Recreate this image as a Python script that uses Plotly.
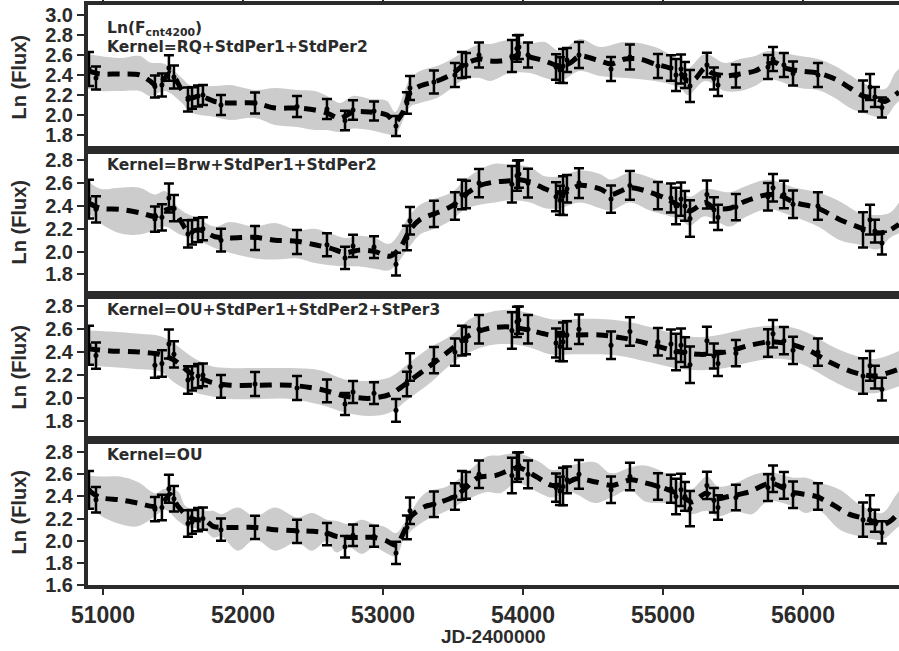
import plotly.graph_objects as go
from plotly.subplots import make_subplots

# ---------------- observations (same in every panel) ----------------
obs_jd = [50900, 50950, 51371, 51421, 51471, 51507, 51607, 51636, 51679, 51714,
          51843, 52086, 52386, 52600, 52729, 52786, 52936, 53093, 53171, 53193,
          53364, 53514, 53564, 53593, 53686, 53921, 53957, 53971, 54036, 54236,
          54264, 54286, 54314, 54400, 54629, 54764, 54964, 55057, 55093, 55129,
          55157, 55193, 55314, 55364, 55393, 55521, 55750, 55786, 55864, 55929,
          56107, 56429, 56479, 56514, 56564]
obs_flux = [2.46, 2.37, 2.285, 2.30, 2.47, 2.38, 2.155, 2.17, 2.19, 2.20,
            2.10, 2.12, 2.085, 2.06, 1.945, 2.05, 2.04, 1.89, 2.12, 2.27,
            2.33, 2.40, 2.50, 2.50, 2.60, 2.59, 2.665, 2.68, 2.60, 2.48,
            2.45, 2.49, 2.55, 2.60, 2.46, 2.58, 2.49, 2.47, 2.40, 2.46,
            2.40, 2.29, 2.50, 2.366, 2.30, 2.39, 2.48, 2.56, 2.50, 2.415,
            2.40, 2.19, 2.28, 2.18, 2.075]
obs_err = [0.17, 0.115, 0.11, 0.115, 0.127, 0.115, 0.12, 0.107, 0.105, 0.10,
           0.10, 0.105, 0.105, 0.10, 0.097, 0.097, 0.095, 0.10, 0.107, 0.12,
           0.115, 0.12, 0.13, 0.12, 0.124, 0.16, 0.133, 0.12, 0.125, 0.127,
           0.127, 0.17, 0.12, 0.13, 0.12, 0.125, 0.12, 0.127, 0.16, 0.146,
           0.13, 0.16, 0.123, 0.11, 0.11, 0.115, 0.12, 0.12, 0.12, 0.12,
           0.12, 0.155, 0.13, 0.10, 0.10]

# ---------------- panel 1: RQ+StdPer1+StdPer2 ----------------
p1_mean_jd = [50893, 50979, 51121, 51264, 51336, 51386, 51443, 51479, 51514, 51564,
              51621, 51693, 51800, 51907, 52086, 52229, 52386, 52514, 52600, 52693,
              52786, 52907, 53029, 53086, 53143, 53193, 53264, 53386, 53493, 53586,
              53693, 53764, 53836, 53907, 53979, 54050, 54157, 54264, 54336, 54407,
              54550, 54629, 54729, 54836, 54943, 55050, 55121, 55179, 55229, 55300,
              55350, 55443, 55550, 55657, 55750, 55800, 55871, 55979, 56107, 56229,
              56336, 56429, 56514, 56586, 56657, 56686]
p1_mean = [2.44, 2.41, 2.41, 2.40, 2.34, 2.29, 2.37, 2.42, 2.37, 2.25,
           2.17, 2.19, 2.135, 2.12, 2.12, 2.07, 2.07, 2.05, 2.02, 1.965,
           2.03, 2.03, 2.00, 1.93, 2.03, 2.22, 2.29, 2.34, 2.41, 2.51,
           2.56, 2.54, 2.54, 2.56, 2.61, 2.58, 2.54, 2.49, 2.52, 2.59,
           2.54, 2.51, 2.56, 2.56, 2.51, 2.47, 2.42, 2.34, 2.36, 2.47,
           2.42, 2.39, 2.41, 2.44, 2.51, 2.525, 2.47, 2.44, 2.42, 2.36,
           2.27, 2.19, 2.17, 2.135, 2.20, 2.23]
p1_band_jd = [50893, 50979, 51121, 51264, 51336, 51443, 51564, 51621, 51800, 51907,
              52086, 52229, 52386, 52514, 52600, 52693, 52786, 52907, 53029, 53086,
              53193, 53264, 53386, 53493, 53586, 53693, 53764, 53907, 54050, 54157,
              54264, 54407, 54550, 54729, 54943, 55121, 55179, 55300, 55443, 55550,
              55657, 55750, 55979, 56107, 56229, 56336, 56429, 56586, 56657, 56686]
p1_lo = [2.26, 2.24, 2.24, 2.24, 2.19, 2.24, 2.12, 2.03, 1.98, 1.95,
         1.97, 1.90, 1.88, 1.85, 1.85, 1.83, 1.865, 1.85, 1.81, 1.80,
         2.08, 2.12, 2.17, 2.27, 2.36, 2.37, 2.34, 2.42, 2.42, 2.37,
         2.34, 2.44, 2.39, 2.37, 2.34, 2.27, 2.20, 2.34, 2.24, 2.24,
         2.29, 2.36, 2.27, 2.25, 2.17, 2.07, 2.02, 1.98, 2.10, 2.14]
p1_hi = [2.61, 2.59, 2.57, 2.59, 2.525, 2.51, 2.37, 2.30, 2.29, 2.30,
         2.25, 2.27, 2.25, 2.24, 2.19, 2.12, 2.19, 2.16, 2.14, 2.03,
         2.36, 2.44, 2.49, 2.56, 2.64, 2.71, 2.71, 2.75, 2.72, 2.73,
         2.64, 2.76, 2.68, 2.73, 2.68, 2.54, 2.47, 2.61, 2.52, 2.56,
         2.59, 2.64, 2.59, 2.56, 2.49, 2.40, 2.32, 2.26, 2.42, 2.46]

# ---------------- panel 2: Brw+StdPer1+StdPer2 ----------------
p2_mean_jd = [50893, 50979, 51121, 51264, 51371, 51443, 51493, 51550, 51607, 51693,
              51800, 51907, 52086, 52229, 52386, 52514, 52621, 52729, 52836, 52943,
              53050, 53121, 53193, 53264, 53386, 53493, 53586, 53693, 53800, 53907,
              53979, 54050, 54157, 54229, 54300, 54407, 54550, 54629, 54764, 54907,
              55014, 55121, 55193, 55300, 55371, 55479, 55586, 55750, 55836, 55943,
              56107, 56264, 56407, 56536, 56621, 56686]
p2_mean = [2.43, 2.38, 2.37, 2.34, 2.31, 2.36, 2.38, 2.28, 2.18, 2.19,
           2.13, 2.12, 2.125, 2.10, 2.09, 2.06, 2.03, 1.99, 2.015, 2.00,
           1.96, 2.03, 2.19, 2.28, 2.34, 2.40, 2.50, 2.58, 2.61, 2.62,
           2.63, 2.61, 2.55, 2.52, 2.52, 2.58, 2.55, 2.50, 2.56, 2.52,
           2.47, 2.40, 2.355, 2.43, 2.38, 2.38, 2.44, 2.50, 2.49, 2.43,
           2.38, 2.28, 2.21, 2.16, 2.19, 2.24]
p2_band_jd = [50893, 50979, 51121, 51264, 51371, 51443, 51550, 51693, 51800, 51907,
              52086, 52229, 52386, 52514, 52621, 52729, 52836, 52943, 53050, 53193,
              53264, 53386, 53493, 53586, 53693, 53800, 53907, 54050, 54157, 54264,
              54407, 54550, 54629, 54764, 54907, 55121, 55193, 55300, 55479, 55586,
              55750, 55943, 56107, 56264, 56407, 56536, 56621, 56686]
p2_lo = [2.34, 2.25, 2.16, 2.15, 2.19, 2.22, 2.15, 2.09, 2.03, 1.99,
         1.94, 1.93, 1.94, 1.90, 1.88, 1.87, 1.87, 1.85, 1.84, 2.05,
         2.15, 2.21, 2.28, 2.37, 2.41, 2.43, 2.45, 2.43, 2.38, 2.38,
         2.43, 2.38, 2.36, 2.43, 2.36, 2.28, 2.23, 2.31, 2.22, 2.30,
         2.37, 2.30, 2.22, 2.10, 2.06, 2.02, 2.12, 2.16]
p2_hi = [2.62, 2.55, 2.56, 2.56, 2.50, 2.53, 2.37, 2.28, 2.22, 2.26,
         2.22, 2.25, 2.19, 2.20, 2.16, 2.12, 2.14, 2.12, 2.07, 2.32,
         2.41, 2.47, 2.52, 2.63, 2.72, 2.77, 2.76, 2.74, 2.66, 2.66,
         2.71, 2.68, 2.63, 2.69, 2.65, 2.53, 2.48, 2.55, 2.52, 2.57,
         2.63, 2.56, 2.52, 2.44, 2.34, 2.32, 2.34, 2.43]

# ---------------- panel 3: OU+StdPer1+StdPer2+StPer3 ----------------
p3_jd = [50893, 51050, 51264, 51407, 51514, 51621, 51764, 51907, 52121, 52336,
         52550, 52729, 52907, 53050, 53193, 53336, 53493, 53621, 53764, 53907,
         54050, 54193, 54371, 54550, 54729, 54907, 55086, 55264, 55443, 55621,
         55764, 55907, 56050, 56193, 56371, 56514, 56686]
p3_mean = [2.43, 2.41, 2.40, 2.38, 2.325, 2.22, 2.14, 2.11, 2.11, 2.11,
           2.075, 2.015, 1.995, 2.03, 2.15, 2.28, 2.43, 2.55, 2.61, 2.62,
           2.59, 2.55, 2.55, 2.55, 2.52, 2.47, 2.41, 2.38, 2.40, 2.46,
           2.49, 2.47, 2.41, 2.31, 2.22, 2.19, 2.25]
p3_lo = [2.28, 2.27, 2.25, 2.23, 2.13, 2.06, 2.015, 1.99, 1.99, 1.99,
         1.94, 1.87, 1.84, 1.87, 2.00, 2.13, 2.30, 2.40, 2.46, 2.47,
         2.44, 2.38, 2.38, 2.38, 2.36, 2.31, 2.26, 2.24, 2.26, 2.31,
         2.34, 2.33, 2.26, 2.16, 2.06, 2.04, 2.10]
p3_hi = [2.59, 2.58, 2.56, 2.54, 2.47, 2.37, 2.28, 2.26, 2.26, 2.26,
         2.24, 2.16, 2.15, 2.18, 2.31, 2.44, 2.55, 2.69, 2.75, 2.77,
         2.74, 2.69, 2.69, 2.69, 2.67, 2.62, 2.56, 2.53, 2.56, 2.61,
         2.63, 2.62, 2.56, 2.46, 2.37, 2.34, 2.41]

# ---------------- panel 4: OU ----------------
p4_mean_jd = [50893, 50979, 51121, 51250, 51371, 51443, 51479, 51536, 51593, 51657,
              51729, 51786, 51843, 51964, 52086, 52229, 52386, 52493, 52600, 52664,
              52757, 52850, 52936, 53021, 53093, 53157, 53200, 53300, 53364, 53457,
              53514, 53586, 53679, 53807, 53971, 54093, 54207, 54307, 54379, 54521,
              54636, 54771, 54850, 54993, 55114, 55207, 55307, 55379, 55471, 55614,
              55771, 55921, 56093, 56207, 56329, 56471, 56564, 56636, 56686]
p4_mean = [2.46, 2.39, 2.37, 2.34, 2.31, 2.37, 2.42, 2.31, 2.235, 2.19,
           2.185, 2.13, 2.12, 2.12, 2.12, 2.10, 2.09, 2.085, 2.07, 2.04,
           2.03, 2.03, 2.03, 2.00, 1.96, 2.10, 2.22, 2.31, 2.33, 2.37,
           2.40, 2.47, 2.57, 2.59, 2.66, 2.58, 2.50, 2.52, 2.56, 2.53,
           2.50, 2.55, 2.53, 2.48, 2.42, 2.35, 2.43, 2.38, 2.40, 2.44,
           2.52, 2.44, 2.40, 2.33, 2.24, 2.19, 2.14, 2.19, 2.26]
p4_band_jd = [50893, 50979, 51121, 51250, 51371, 51443, 51536, 51593, 51729, 51786,
              51843, 51964, 52086, 52229, 52386, 52493, 52600, 52664, 52757, 52850,
              52936, 53021, 53093, 53157, 53300, 53457, 53586, 53743, 53836, 53957,
              54121, 54207, 54336, 54514, 54629, 54764, 54871, 55064, 55193, 55314,
              55393, 55514, 55636, 55750, 55929, 56021, 56107, 56264, 56407, 56564,
              56657, 56686]
p4_lo = [2.33, 2.23, 2.15, 2.13, 2.22, 2.28, 2.18, 2.13, 2.09, 2.03,
         2.04, 1.91, 2.01, 1.91, 1.985, 1.91, 2.00, 1.895, 1.94, 1.88,
         1.94, 1.89, 1.86, 2.03, 2.18, 2.27, 2.36, 2.44, 2.43, 2.52,
         2.43, 2.39, 2.44, 2.34, 2.39, 2.46, 2.355, 2.33, 2.24, 2.27,
         2.22, 2.265, 2.24, 2.355, 2.31, 2.25, 2.28, 2.10, 2.04, 2.01,
         2.10, 2.13]
p4_hi = [2.59, 2.58, 2.58, 2.53, 2.43, 2.47, 2.445, 2.31, 2.27, 2.27,
         2.24, 2.30, 2.22, 2.30, 2.21, 2.25, 2.19, 2.18, 2.15, 2.19,
         2.15, 2.12, 2.07, 2.17, 2.43, 2.49, 2.60, 2.76, 2.77, 2.79,
         2.71, 2.64, 2.68, 2.71, 2.61, 2.66, 2.68, 2.58, 2.46, 2.58,
         2.49, 2.52, 2.59, 2.62, 2.57, 2.57, 2.53, 2.46, 2.325, 2.25,
         2.40, 2.45]

panel_labels = ["Kernel=RQ+StdPer1+StdPer2", "Kernel=Brw+StdPer1+StdPer2",
                "Kernel=OU+StdPer1+StdPer2+StPer3", "Kernel=OU"]
top_label = "Ln(F<sub>cnt4200</sub>)"
y_title = "Ln (Flux)"
x_title = "JD-2400000"
x_ticks = [51000, 52000, 53000, 54000, 55000, 56000]
x_ticktext = ["51000", "52000", "53000", "54000", "55000", "56000"]
x_range = [50893, 56686]
y_ranges = [[1.65, 3.10], [1.62, 2.89], [1.63, 2.90], [1.60, 2.91]]
y_ticks = [[1.8, 2.0, 2.2, 2.4, 2.6, 2.8, 3.0],
           [1.8, 2.0, 2.2, 2.4, 2.6, 2.8],
           [1.8, 2.0, 2.2, 2.4, 2.6, 2.8],
           [1.6, 1.8, 2.0, 2.2, 2.4, 2.6, 2.8]]

panels = [
    (p1_band_jd, p1_lo, p1_hi, p1_mean_jd, p1_mean),
    (p2_band_jd, p2_lo, p2_hi, p2_mean_jd, p2_mean),
    (p3_jd, p3_lo, p3_hi, p3_jd, p3_mean),
    (p4_band_jd, p4_lo, p4_hi, p4_mean_jd, p4_mean),
]
for bx, lo, hi, mx, my in panels:
    assert len(bx) == len(lo) == len(hi), (len(bx), len(lo), len(hi))
    assert len(mx) == len(my), (len(mx), len(my))
assert len(obs_jd) == len(obs_flux) == len(obs_err)

FRAME = "#2b2b2b"
BAND = "#cccccc"
TICKFONT = "Liberation Sans"
LABFONT = "DejaVu Sans"

fig = make_subplots(rows=4, cols=1, shared_xaxes=True, vertical_spacing=0)

for i, (bx, lo, hi, mx, my) in enumerate(panels):
    r = i + 1
    fig.add_trace(go.Scatter(x=bx, y=lo, mode="lines", line=dict(width=0, shape="spline", smoothing=1.0),
                             hoverinfo="skip", showlegend=False), row=r, col=1)
    fig.add_trace(go.Scatter(x=bx, y=hi, mode="lines", line=dict(width=0, shape="spline", smoothing=1.0),
                             fill="tonexty", fillcolor=BAND, hoverinfo="skip", showlegend=False), row=r, col=1)
    fig.add_trace(go.Scatter(x=mx, y=my, mode="lines",
                             line=dict(color="black", width=5, dash="12px,8px", shape="spline", smoothing=0.8),
                             showlegend=False), row=r, col=1)
    fig.add_trace(go.Scatter(x=obs_jd, y=obs_flux, mode="markers",
                             marker=dict(color="black", size=5),
                             error_y=dict(type="data", array=obs_err, visible=True,
                                          color="black", thickness=2.5, width=5),
                             showlegend=False), row=r, col=1)

    fig.update_yaxes(row=r, col=1, range=y_ranges[i], tickvals=y_ticks[i], tickformat=".1f",
                     showline=True, linewidth=4, linecolor=FRAME, mirror=False,
                     ticks="outside", ticklen=7, tickwidth=2, tickcolor=FRAME,
                     showgrid=False, zeroline=False,
                     tickfont=dict(family=TICKFONT, size=20, color=FRAME, weight="bold"))
    xa = dict(range=x_range, tickvals=x_ticks, ticktext=x_ticktext, showline=True, linewidth=4,
              linecolor=FRAME, mirror=True, showgrid=False, zeroline=False)
    if r == 1:
        xa.update(side="top", ticks="outside", ticklen=6, tickwidth=2, tickcolor=FRAME,
                  showticklabels=False)
    elif r == 4:
        xa.update(ticks="outside", ticklen=6, tickwidth=2, tickcolor=FRAME, showticklabels=True,
                  tickfont=dict(family=TICKFONT, size=23, color=FRAME, weight="bold"))
    else:
        xa.update(ticks="", showticklabels=False)
    fig.update_xaxes(row=r, col=1, **xa)

# pixel helpers for annotation placement (plot area 5..585 px tall)
def py(p):
    return (585 - p) / 580.0

ann = []
ann.append(dict(text=top_label, x=(105 - 88) / 811, y=py(17), xanchor="left", yanchor="top"))
label_tops = [36, 154, 299, 444]
for lab, t in zip(panel_labels, label_tops):
    ann.append(dict(text=lab, x=(105 - 88) / 811, y=py(t), xanchor="left", yanchor="top"))
for a in ann:
    a.update(xref="paper", yref="paper", showarrow=False,
             font=dict(family=LABFONT, size=15.5, color=FRAME, weight="bold"))
    fig.add_annotation(**a)

for c in [0.875, 0.625, 0.375, 0.125]:
    fig.add_annotation(text=y_title, xref="paper", yref="paper", x=0, y=c, xshift=-70,
                       xanchor="center", yanchor="middle", textangle=-90, showarrow=False,
                       font=dict(family=TICKFONT, size=20, color=FRAME, weight="bold"))

fig.add_annotation(text=x_title, xref="paper", yref="paper", x=0.5, y=py(636),
                   xanchor="center", yanchor="middle", showarrow=False,
                   font=dict(family=TICKFONT, size=19, color=FRAME, weight="bold"))

fig.update_layout(width=899, height=651, margin=dict(l=88, r=0, t=5, b=66),
                  paper_bgcolor="white", plot_bgcolor="white", showlegend=False)

fig.write_html("out.html", config={"displayModeBar": False},
               post_script="document.body.style.margin='0';document.body.style.padding='0';")
